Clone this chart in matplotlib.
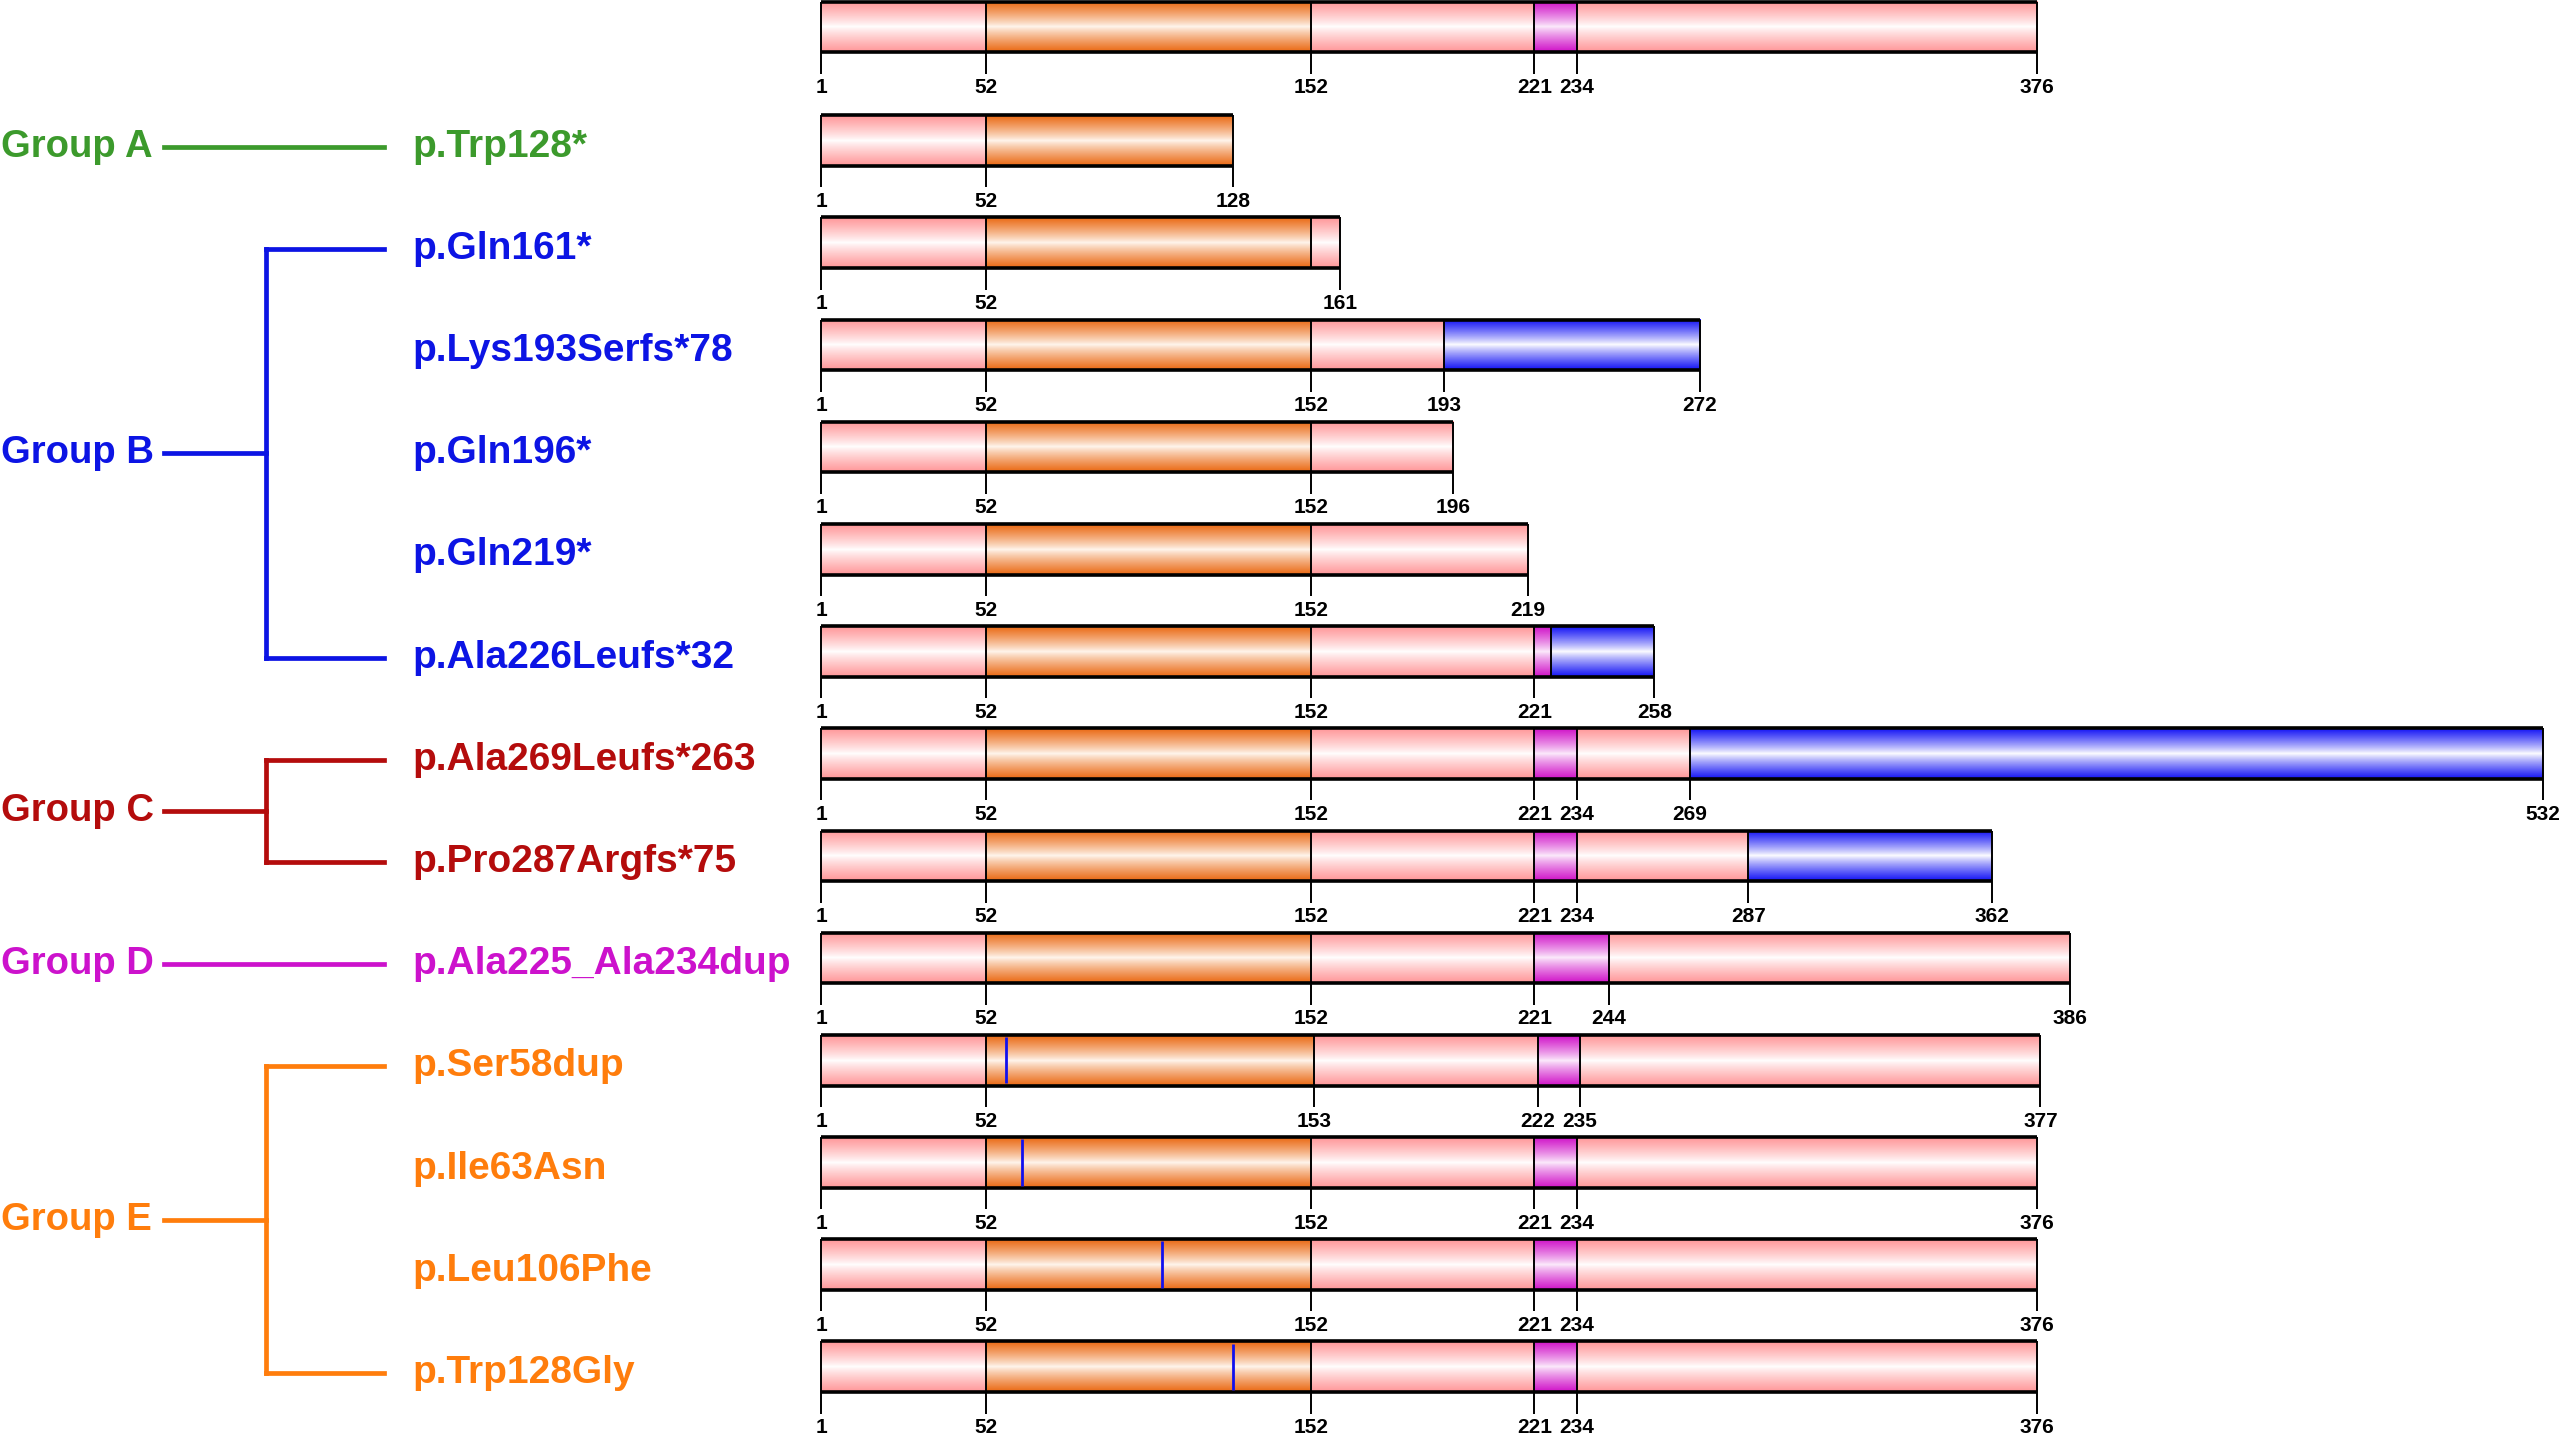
import matplotlib
matplotlib.use('Agg')
import matplotlib.pyplot as plt
import numpy as np
from matplotlib import font_manager

# variant names (row 0 is the wild type protein, no label)
variants = ['', 'p.Trp128*', 'p.Gln161*', 'p.Lys193Serfs*78', 'p.Gln196*', 'p.Gln219*',
            'p.Ala226Leufs*32', 'p.Ala269Leufs*263', 'p.Pro287Argfs*75', 'p.Ala225_Ala234dup',
            'p.Ser58dup', 'p.Ile63Asn', 'p.Leu106Phe', 'p.Trp128Gly']

# segment breakpoints (aa) and segment kinds for each row
bounds = [
    [1, 52, 152, 221, 234, 376],
    [1, 52, 128],
    [1, 52, 152, 161],
    [1, 52, 152, 193, 272],
    [1, 52, 152, 196],
    [1, 52, 152, 219],
    [1, 52, 152, 221, 226, 258],
    [1, 52, 152, 221, 234, 269, 532],
    [1, 52, 152, 221, 234, 287, 362],
    [1, 52, 152, 221, 244, 386],
    [1, 52, 153, 222, 235, 377],
    [1, 52, 152, 221, 234, 376],
    [1, 52, 152, 221, 234, 376],
    [1, 52, 152, 221, 234, 376],
]
kinds = [
    ['pink', 'orange', 'pink', 'magenta', 'pink'],
    ['pink', 'orange'],
    ['pink', 'orange', 'pink'],
    ['pink', 'orange', 'pink', 'blue'],
    ['pink', 'orange', 'pink'],
    ['pink', 'orange', 'pink'],
    ['pink', 'orange', 'pink', 'magenta', 'blue'],
    ['pink', 'orange', 'pink', 'magenta', 'pink', 'blue'],
    ['pink', 'orange', 'pink', 'magenta', 'pink', 'blue'],
    ['pink', 'orange', 'pink', 'magenta', 'pink'],
    ['pink', 'orange', 'pink', 'magenta', 'pink'],
    ['pink', 'orange', 'pink', 'magenta', 'pink'],
    ['pink', 'orange', 'pink', 'magenta', 'pink'],
    ['pink', 'orange', 'pink', 'magenta', 'pink'],
]
tick_labels = [
    [1, 52, 152, 221, 234, 376],
    [1, 52, 128],
    [1, 52, 161],
    [1, 52, 152, 193, 272],
    [1, 52, 152, 196],
    [1, 52, 152, 219],
    [1, 52, 152, 221, 258],
    [1, 52, 152, 221, 234, 269, 532],
    [1, 52, 152, 221, 234, 287, 362],
    [1, 52, 152, 221, 244, 386],
    [1, 52, 153, 222, 235, 377],
    [1, 52, 152, 221, 234, 376],
    [1, 52, 152, 221, 234, 376],
    [1, 52, 152, 221, 234, 376],
]
# missense / in-frame site markers: (row, aa)
marker_rows = [10, 11, 12, 13]
marker_pos = [58, 63, 106, 128]

group_names = ['Group A', 'Group B', 'Group C', 'Group D', 'Group E']
group_rows = [[1], [2, 3, 4, 5, 6], [7, 8], [9], [10, 11, 12, 13]]
group_colors = ['#3c9a2c', '#0c14e4', '#b40c0c', '#cc12cc', '#ff7d0c']

edge_col = {'pink': (255, 150, 152), 'orange': (234, 104, 18),
            'magenta': (208, 18, 200), 'blue': (18, 18, 245)}
mid_col = {'pink': (255, 255, 255), 'orange': (255, 246, 238),
           'magenta': (252, 236, 252), 'blue': (255, 255, 255)}

avail = {f.name for f in font_manager.fontManager.ttflist}
narrow = 'Liberation Sans Narrow' if 'Liberation Sans Narrow' in avail else 'Liberation Sans'

fig = plt.figure(figsize=(25.59, 14.34), dpi=100)
ax = fig.add_axes([0, 0, 1, 1])
ax.axis('off')

# wild type row sits a little apart from the variants
ypos = np.arange(len(variants)) + 0.112 * (np.arange(len(variants)) >= 1)
lab_dy = 0.06  # labels and tree sit slightly below bar centres

H = 0.495
t = np.linspace(0, 1, 80)
w = np.abs(2 * t - 1) ** 0.85

for r, (b, k) in enumerate(zip(bounds, kinds)):
    y = ypos[r]
    top, bot = y - H / 2, y + H / 2
    for s, e, kind in zip(b[:-1], b[1:], k):
        c0 = np.array(mid_col[kind]) / 255
        c1 = np.array(edge_col[kind]) / 255
        grad = c0[None, :] * (1 - w[:, None]) + c1[None, :] * w[:, None]
        ax.imshow(grad[:, None, :], extent=[s, e, bot, top], aspect='auto',
                  interpolation='bilinear', zorder=1)
    ax.vlines(b, top, bot, color='black', lw=1.4, zorder=3)
    ax.hlines([top, bot], b[0], b[-1], color='black', lw=2.6, zorder=3)
    ax.vlines(tick_labels[r], bot, bot + 0.21, color='black', lw=1.4, zorder=3)
    for v in tick_labels[r]:
        ax.text(v, bot + 0.255, str(v), ha='center', va='top', fontsize=15,
                fontweight='bold', family=[narrow, 'DejaVu Sans'])

for r, p in zip(marker_rows, marker_pos):
    y = ypos[r]
    ax.vlines(p, y - H / 2 + 0.02, y + H / 2 - 0.02, color='#1010ee', lw=2, zorder=4)

tr = ax.get_yaxis_transform()
for name, rows, col in zip(group_names, group_rows, group_colors):
    ys = ypos[rows] + lab_dy
    gy = (ys[0] + ys[-1]) / 2
    ax.text(0.0005, gy, name, transform=tr, ha='left', va='center', color=col,
            fontsize=27.5, fontweight='bold', family=['Liberation Sans', 'DejaVu Sans'])
    if len(rows) == 1:
        ax.plot([0.064, 0.150], [gy, gy], transform=tr, color=col, lw=3.4)
    else:
        ax.plot([0.064, 0.104], [gy, gy], transform=tr, color=col, lw=3.4)
        ax.plot([0.104, 0.104], [ys[0], ys[-1]], transform=tr, color=col, lw=3.4)
        for yy in (ys[0], ys[-1]):
            ax.plot([0.104, 0.150], [yy, yy], transform=tr, color=col, lw=3.4)
    for rr, yy in zip(rows, ys):
        ax.text(0.161, yy, variants[rr], transform=tr, ha='left', va='center', color=col,
                fontsize=28, fontweight='bold', family=['Liberation Sans', 'DejaVu Sans'])

ax.set_xlim(1 - 821 / 3.243, 1 + (2559 - 821) / 3.243)
ax.set_ylim(13.77, -0.264)

fig.savefig('out.png', dpi=100)
